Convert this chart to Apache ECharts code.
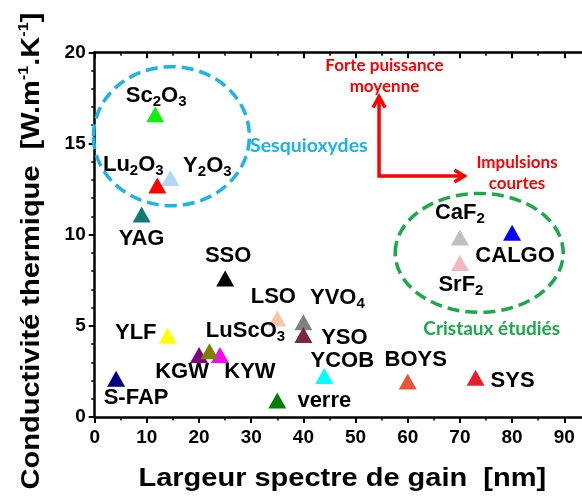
<!DOCTYPE html>
<html><head><meta charset="utf-8">
<script src="https://cdn.jsdelivr.net/npm/echarts@6/dist/echarts.min.js"></script>
<style>html,body{margin:0;padding:0;background:#fff}#c{width:582px;height:496px}</style>
</head><body><div id="c"></div>
<script>
// ---- data ----
const names = ['S-FAP','YAG','Sc2O3','Y2O3','Lu2O3','YLF','KGW','KYW','LuScO3','SSO','LSO','verre','YVO4','YSO','YCOB','BOYS','SYS','CaF2','SrF2','CALGO'];
const labelTexts = ['S-FAP','YAG','Sc{sub|2}O{sub|3}','Y{sub|2}O{sub|3}','Lu{sub|2}O{sub|3}','YLF','KGW','KYW','LuScO{sub|3}','SSO','LSO','verre','YVO{sub|4}','YSO','YCOB','BOYS','SYS','CaF{sub|2}','SrF{sub|2}','CALGO'];
const gainWidth = [4.1, 9.0, 11.6, 14.5, 12.0, 14.0, 20.0, 24.0, 22.0, 25.0, 35.0, 35.0, 40.0, 40.0, 44.0, 60.0, 73.0, 70.0, 70.0, 80.0];
const conductivity = [2.1, 11.1, 16.6, 13.1, 12.7, 4.45, 3.4, 3.4, 3.6, 7.6, 5.4, 0.9, 5.2, 4.5, 2.25, 1.95, 2.15, 9.85, 8.45, 10.1];
const xTicks = [0, 10, 20, 30, 40, 50, 60, 70, 80, 90];
const xMinorTicks = [5, 15, 25, 35, 45, 55, 65, 75, 85];
const yTicks = [0, 5, 10, 15, 20];
const xTitle = 'Largeur spectre de gain  [nm]';
const yTitle = 'Conductivité thermique  [W.m{sup|-1}.K{sup|-1}]';

// ---- styles ----
const colors = ['#000080','#137a78','#11ee11','#b0d8f2','#ff0000','#ffff00','#800080','#ff00ff','#7f7f00','#000000','#fcc4a2','#008000','#808080','#7a2840','#00ffff','#e8563a','#ec1c2e','#c0c0c0','#f2b8c2','#0000ff'];
const labelOffsets = [[20,19],[0,24],[1,-18],[37,-12],[-24,-20],[-32,-3],[-17,17],[30,17],[36,-20],[3,-22],[-4,-22],[47,0],[34,-24],[41,3],[18,-15],[8,-22],[37,3],[0,-24],[1,22],[3,23]];

const FONT = '"Liberation Sans", Arial, sans-serif';
const chart = echarts.init(document.getElementById('c'), null, {renderer: 'canvas'});

const data = names.map((n, i) => ({
  name: n,
  value: [gainWidth[i], conductivity[i]],
  itemStyle: {color: colors[i], opacity: 1},
  label: {formatter: labelTexts[i]}
}));

const X_MAX = 93.4; // plot's right edge sits at the canvas edge
function xAxisDef(pos, major, showLine) {
  return {
    type: 'value', min: 0, max: X_MAX, interval: 10, position: pos,
    axisLine: {show: showLine, onZero: false, lineStyle: {color: '#000', width: 2.5}},
    splitLine: {show: false},
    minorTick: {show: false},
    axisTick: {show: true, inside: pos === 'top', length: major ? 6 : 3.5,
      customValues: major ? xTicks : xMinorTicks,
      lineStyle: {color: '#000', width: major ? 2 : 1.5}},
    axisLabel: (pos === 'bottom' && major) ? {show: true, color: '#000', fontFamily: FONT, fontWeight: 'bold', fontSize: 19, margin: 11,
      customValues: xTicks, formatter: v => (xTicks.indexOf(v) >= 0 ? String(v) : '')} : {show: false}
  };
}

chart.setOption({
  animation: false,
  backgroundColor: '#fff',
  grid: {left: 94.7, top: 52.3, right: 0, bottom: 79, containLabel: false},
  xAxis: [
    xAxisDef('bottom', true, true),
    xAxisDef('top', true, true),
    xAxisDef('bottom', false, false),
    xAxisDef('top', false, false)
  ],
  yAxis: {
    type: 'value', min: 0, max: 20, interval: 5,
    axisLine: {show: true, onZero: false, lineStyle: {color: '#000', width: 2.5}},
    splitLine: {show: false},
    axisTick: {show: true, inside: false, length: 6, lineStyle: {color: '#000', width: 2}},
    minorTick: {show: true, splitNumber: 5, length: 3.5, lineStyle: {color: '#000', width: 1.5}},
    axisLabel: {color: '#000', fontFamily: FONT, fontWeight: 'bold', fontSize: 19, margin: 9,
      formatter: v => (yTicks.indexOf(v) >= 0 ? String(v) : '')}
  },
  series: [{
    type: 'scatter',
    xAxisIndex: 0, yAxisIndex: 0,
    symbol: 'triangle',
    symbolSize: [18, 16],
    itemStyle: {opacity: 1},
    data: data,
    label: {
      show: true, position: 'inside', align: 'center', verticalAlign: 'middle',
      color: '#000', opacity: 1, textBorderWidth: 0, textBorderColor: 'transparent',
      fontFamily: FONT, fontWeight: 'bold', fontSize: 22, lineHeight: 26,
      rich: {sub: {fontFamily: FONT, fontWeight: 'bold', fontSize: 15, lineHeight: 13, verticalAlign: 'bottom', color: '#000', textBorderWidth: 0}}
    },
    labelLayout: p => ({dx: labelOffsets[p.dataIndex][0], dy: labelOffsets[p.dataIndex][1], hideOverlap: false}),
    emphasis: {disabled: true}
  }]
});

// ---- annotations (positioned in data space, converted to pixels) ----
function px(x, y) { return chart.convertToPixel({xAxisIndex: 0, yAxisIndex: 0}, [x, y]); }
function ellipse(cx, cy, rx, ry, color) {
  const c = px(cx, cy), e = px(cx + rx, cy + ry);
  return {type: 'ellipse', shape: {cx: c[0], cy: c[1], rx: e[0] - c[0], ry: c[1] - e[1]},
    style: {fill: null, stroke: color, lineWidth: 3.5, lineDash: [12, 6]}, z: 50};
}
const pCorner = px(54.5, 13.21), pTop = px(54.5, 17.57), pRight = px(70.85, 13.21);
const red = '#ff0000';
const ANN = 'Lato, "Open Sans", sans-serif';
const arrowStyle = {stroke: red, lineWidth: 3.5, fill: null, lineJoin: 'miter', lineCap: 'butt'};
chart.setOption({
  graphic: [
    ellipse(14.7, 15.4, 14.95, 3.81, '#1ab4ea'),
    ellipse(73.7, 9.0, 16.1, 3.26, '#1aaa4a'),
    {type: 'polyline', shape: {points: [pTop, pCorner, pRight]}, style: arrowStyle, z: 50},
    {type: 'polyline', shape: {points: [[pTop[0]-6, pTop[1]+11], pTop, [pTop[0]+6, pTop[1]+11]]}, style: arrowStyle, z: 50},
    {type: 'polyline', shape: {points: [[pRight[0]-10, pRight[1]-6], pRight, [pRight[0]-10, pRight[1]+6]]}, style: arrowStyle, z: 50},
    {type: 'text', x: 384.5, y: 66, style: {text: 'Forte puissance', fill: red, font: 'bold 17px ' + ANN, align: 'center', verticalAlign: 'middle'}, z: 50},
    {type: 'text', x: 384.5, y: 87, style: {text: 'moyenne', fill: red, font: 'bold 17px ' + ANN, align: 'center', verticalAlign: 'middle'}, z: 50},
    {type: 'text', x: 517, y: 163, style: {text: 'Impulsions', fill: red, font: 'bold 17px ' + ANN, align: 'center', verticalAlign: 'middle'}, z: 50},
    {type: 'text', x: 517, y: 184, style: {text: 'courtes', fill: red, font: 'bold 17px ' + ANN, align: 'center', verticalAlign: 'middle'}, z: 50},
    {type: 'text', x: 250, y: 146, style: {text: 'Sesquioxydes', fill: '#1ab4ea', font: 'bold 19.5px ' + ANN, align: 'left', verticalAlign: 'middle'}, z: 50},
    {type: 'text', x: 491.7, y: 329, style: {text: 'Cristaux étudiés', fill: '#1aaa4a', font: 'bold 19px ' + ANN, align: 'center', verticalAlign: 'middle'}, z: 50},
    {type: 'text', x: 342.3, y: 479, scaleX: 1.16,
      style: {text: xTitle, fill: '#000', fontFamily: FONT, fontWeight: 'bold', fontSize: 25, align: 'center', verticalAlign: 'middle'}, z: 50},
    {type: 'text', x: 32, y: 251, rotation: Math.PI / 2, scaleX: 1.16,
      style: {text: yTitle, fill: '#000', fontFamily: FONT, fontWeight: 'bold', fontSize: 25, lineHeight: 30,
        align: 'center', verticalAlign: 'middle',
        rich: {sup: {fontFamily: FONT, fontWeight: 'bold', fontSize: 14, lineHeight: 13, verticalAlign: 'top', fill: '#000'}}}, z: 50}
  ]
});
</script></body></html>
